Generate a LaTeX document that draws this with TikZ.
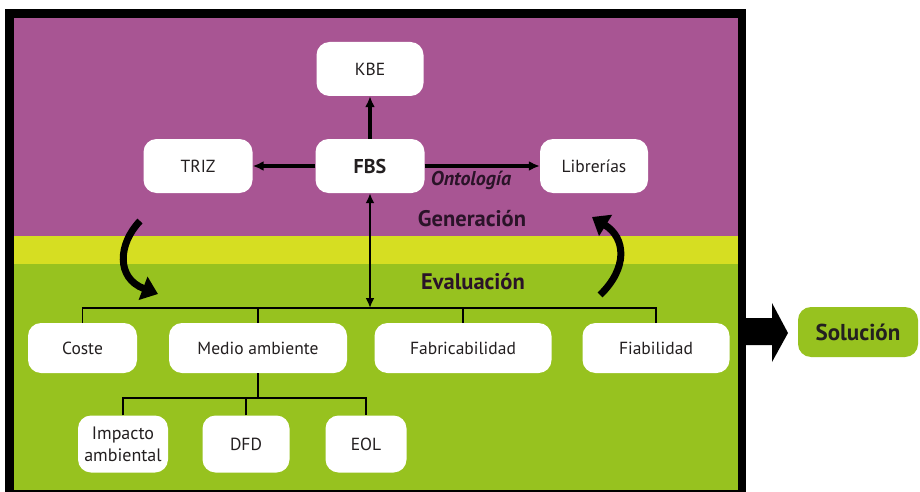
\documentclass[tikz,border=0pt]{standalone}
\usepackage{fontspec}
\setmainfont{PT Sans}
\usetikzlibrary{arrows.meta}
\definecolor{genpurple}{HTML}{A85593}
\definecolor{bandyellow}{HTML}{D6DE22}
\definecolor{evalgreen}{HTML}{97C21F}
\definecolor{inktext}{HTML}{231F20}
\definecolor{labelink}{HTML}{2A1328}
\tikzset{
  box/.style={draw=none, fill=white, rounded corners=13pt, text=inktext,
    font=\fontsize{17.5}{20}\selectfont, align=center, inner sep=2pt},
  topbox/.style={box, minimum height=54pt},
  evalbox/.style={box, minimum height=50pt},
  subbox/.style={box, minimum height=57pt},
  link/.style={line width=3.4pt, -{Latex[length=11pt,width=10pt]}},
  bus/.style={line width=1.8pt, draw=black},
  cyclearrow/.style={line width=7pt, -{Triangle[length=16pt,width=24pt]}},
  zone/.style={font=\bfseries\fontsize{22.5}{25}\selectfont, text=labelink}
}
\begin{document}
\begin{tikzpicture}[x=1pt,y=-1pt]
\useasboundingbox (0,0) rectangle (920,492);
\fill[white] (0,0) rectangle (920,492);
% frame and the two zones
\fill[black] (5,9) rectangle (746,492);
\fill[genpurple] (14,18) rectangle (738,236);
\fill[bandyellow] (14,236) rectangle (738,264);
\fill[evalgreen] (14,264) rectangle (738,490);

% generation level
\node[topbox, minimum width=107pt] (kbe) at (370,69) {KBE};
\node[topbox, minimum width=109pt] (triz) at (198,166) {TRIZ};
\node[topbox, minimum width=109pt, font=\bfseries\fontsize{20}{22}\selectfont] (fbs) at (370,166) {FBS};
\node[topbox, minimum width=108pt] (lib) at (594,166) {Librerías};

\draw[link] (fbs) -- (kbe);
\draw[link] (fbs) -- (triz);
\draw[link] (fbs) -- (lib);
\node[font=\bfseries\itshape\fontsize{20}{22}\selectfont, text=labelink] (onto) at (471,180) {Ontología};

\node[zone] (gen) at (472,219) {Generación};
\node[zone] (eval) at (473,282) {Evaluación};

% evaluation level
\node[evalbox, minimum width=109pt] (coste) at (82.5,348) {Coste};
\node[evalbox, minimum width=178pt] (medio) at (258,348) {Medio ambiente};
\node[evalbox, minimum width=177pt] (fab) at (463,348) {Fabricabilidad};
\node[evalbox, minimum width=147pt] (fia) at (656,348) {Fiabilidad};

\node[subbox, minimum width=90pt, font=\fontsize{18}{22}\selectfont] (imp) at (123,444) {Impacto\\ambiental};
\node[subbox, minimum width=87pt] (dfd) at (246,444) {DFD};
\node[subbox, minimum width=81pt] (eol) at (366,444) {EOL};

% distribution bus
\coordinate (busc) at (370,308);
\draw[line width=2.4pt, {Latex[length=10pt,width=9pt]}-{Latex[length=10pt,width=9pt]}] (fbs.south) -- (busc);
\draw[bus] (coste.north) |- (busc) -| (fia.north);
\draw[bus] (medio.north) -- (medio.north |- busc);
\draw[bus] (fab.north) -- (fab.north |- busc);

\coordinate (subbus) at (258,398);
\draw[bus] (medio.south) -- (subbus);
\draw[bus] (imp.north) |- (subbus) -| (eol.north);
\draw[bus] (dfd.north) -- (dfd.north |- subbus);

% cycle between the two zones
\draw[cyclearrow] (140,221) .. controls (118,244) and (116,278) .. (158,294);
\draw[cyclearrow] (600,295) .. controls (628,268) and (626,238) .. (592,217);

% outcome
\node[box, fill=evalgreen, minimum width=120pt, minimum height=50pt,
  font=\bfseries\fontsize{23}{25}\selectfont] (sol) at (858,332) {Solución};
\fill[black] (746,318) -- (772,318) -- (772,303) -- (788,333) -- (772,362)
  -- (772,345) -- (746,345) -- cycle;
\end{tikzpicture}
\end{document}
